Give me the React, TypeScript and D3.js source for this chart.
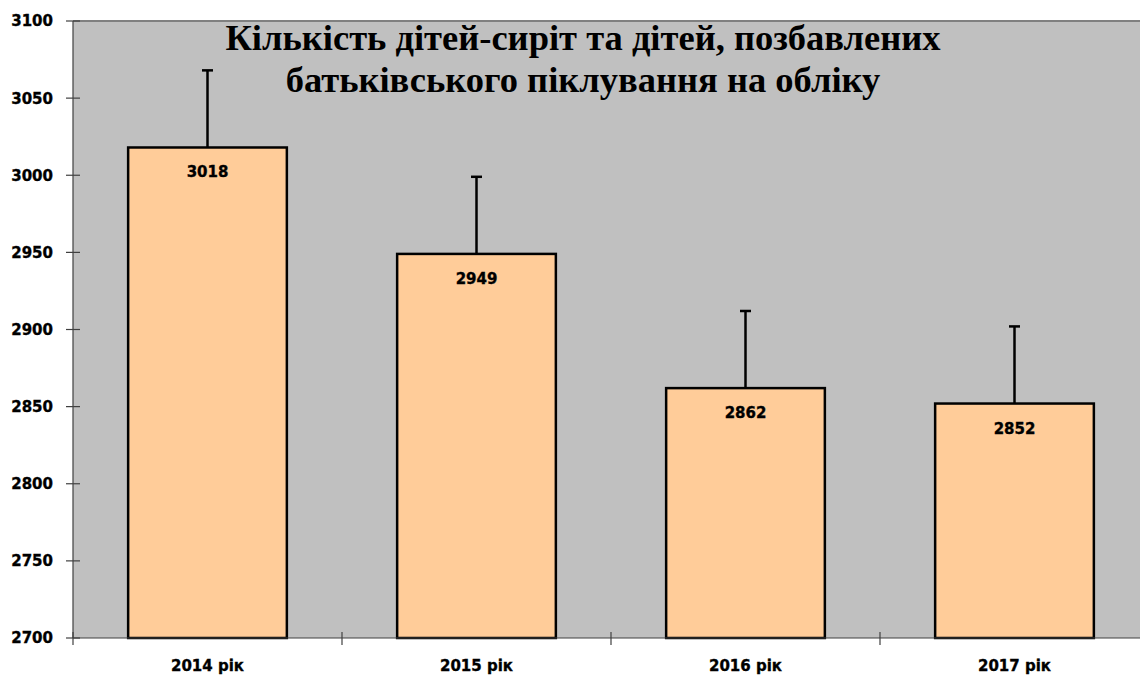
import React from "react";
import * as d3 from "d3";

const categories = ["2014 рік", "2015 рік", "2016 рік", "2017 рік"];
const values = [3018, 2949, 2862, 2852];
const errorPlus = [50, 50, 50, 50];
const yTicks = [2700, 2750, 2800, 2850, 2900, 2950, 3000, 3050, 3100];
const titleLines = [
  "Кількість дітей-сиріт та дітей, позбавлених",
  "батьківського піклування на обліку",
];

const W = 1140;
const H = 675;
const left = 73;
const right = 1149;
const top = 21;
const bottom = 638;
const font = "'DejaVu Sans', sans-serif";
const textStroke = { stroke: "#000", strokeWidth: 0.35 };

export default function App() {
  const x = d3
    .scaleBand<string>()
    .domain(categories)
    .range([left, right])
    .paddingInner(0.41)
    .paddingOuter(0.205);
  const y = d3.scaleLinear().domain([2700, 3100]).range([bottom, top]);
  const step = x.step();
  const catTicks = d3.range(categories.length + 1).map((i) => left + i * step);

  return (
    <svg
      width={W}
      height={H}
      style={{ position: "absolute", left: 0, top: 0, background: "#fff" }}
    >
      <rect x={left} y={top} width={right - left} height={bottom - top} fill="#C0C0C0" />
      <line x1={left} x2={right} y1={top} y2={top} stroke="#808080" strokeWidth={2} />
      {/* y axis */}
      <line x1={left} x2={left} y1={top} y2={bottom} stroke="#404040" strokeWidth={1.2} />
      {yTicks.map((t) => (
        <g key={t}>
          <line x1={left - 7} x2={left + 7} y1={y(t)} y2={y(t)} stroke="#404040" strokeWidth={1.2} />
          <text
            x={53}
            y={y(t)}
            dy="0.36em"
            textAnchor="end"
            fontFamily={font}
            fontWeight="bold"
            fontSize={15}
            fill="#000"
            {...textStroke}
          >
            {t}
          </text>
        </g>
      ))}
      {/* bars */}
      {categories.map((c, i) => {
        const bx = x(c)!;
        const bw = x.bandwidth();
        const cx = bx + bw / 2;
        const v = values[i];
        return (
          <g key={c}>
            <line
              x1={cx}
              x2={cx}
              y1={y(v)}
              y2={y(v + errorPlus[i])}
              stroke="#000"
              strokeWidth={2.5}
            />
            <line
              x1={cx - 5.5}
              x2={cx + 5.5}
              y1={y(v + errorPlus[i])}
              y2={y(v + errorPlus[i])}
              stroke="#000"
              strokeWidth={2.5}
            />
            <rect
              x={bx}
              y={y(v)}
              width={bw}
              height={bottom - y(v)}
              fill="#FFCC99"
              stroke="#000"
              strokeWidth={2.5}
            />
            <text
              x={cx}
              y={y(v) + 30}
              textAnchor="middle"
              fontFamily={font}
              fontWeight="bold"
              fontSize={15}
              fill="#000"
              {...textStroke}
            >
              {v}
            </text>
          </g>
        );
      })}
      {/* x axis */}
      <line x1={left} x2={right} y1={bottom} y2={bottom} stroke="#404040" strokeWidth={1.2} />
      {catTicks.map((t, i) => (
        <line key={i} x1={t} x2={t} y1={bottom - 6} y2={bottom + 7} stroke="#404040" strokeWidth={1.2} />
      ))}
      {categories.map((c) => (
        <text
          key={c}
          x={x(c)! + x.bandwidth() / 2}
          y={671}
          textAnchor="middle"
          fontFamily={font}
          fontWeight="bold"
          fontSize={15}
          fill="#000"
          {...textStroke}
        >
          {c}
        </text>
      ))}
      {/* title */}
      {titleLines.map((l, i) => (
        <text
          key={i}
          x={583}
          y={50 + i * 42}
          textAnchor="middle"
          fontFamily="'Liberation Serif', 'Times New Roman', serif"
          fontWeight="bold"
          fontSize={36.5}
          fill="#000"
        >
          {l}
        </text>
      ))}
    </svg>
  );
}
